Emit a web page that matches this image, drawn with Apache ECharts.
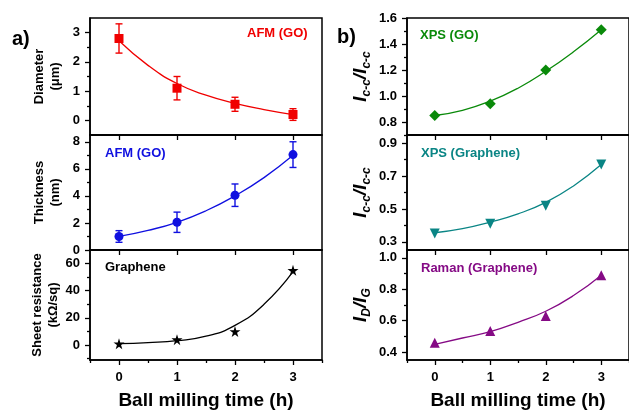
<!DOCTYPE html>
<html><head><meta charset="utf-8">
<script src="https://cdn.jsdelivr.net/npm/echarts@6/dist/echarts.min.js"></script>
<style>html,body{margin:0;padding:0;background:#fff}#c{width:629px;height:411px}</style>
</head><body><div id="c"></div>
<script>
// ---- data ----
const timeH = [0, 1, 2, 3];
const fitX = [0, 0.5, 1, 1.5, 2, 2.5, 3];
const xTicks = [0, 1, 2, 3];
const xMinorTicks = [-0.5, 0.5, 1.5, 2.5, 3.5];

const diameter = [2.8, 1.1, 0.55, 0.2];
const diameterErr = [0.5, 0.4, 0.24, 0.2];
const diameterFit = [2.72, 1.88, 1.26, 0.86, 0.58, 0.37, 0.2];

const thickness = [1.0, 2.05, 4.05, 7.05];
const thicknessErr = [0.43, 0.75, 0.83, 0.95];
const thicknessFit = [1.0, 1.45, 2.05, 2.9, 4.0, 5.35, 7.0];

const sheetRes = [1, 4, 10, 55];
const sheetResFit = [1, 1.8, 3.2, 6.5, 14.5, 30, 54];

const xpsGO = [0.85, 0.94, 1.2, 1.51];
const xpsGOFit = [0.85, 0.89, 0.96, 1.06, 1.19, 1.34, 1.51];

const xpsGr = [0.35, 0.41, 0.52, 0.77];
const xpsGrFit = [0.355, 0.38, 0.42, 0.47, 0.54, 0.64, 0.77];

const raman = [0.46, 0.535, 0.63, 0.89];
const ramanFit = [0.45, 0.49, 0.53, 0.59, 0.66, 0.76, 0.89];

const yTicks = [
  {min: -0.5, max: 3.5, major: [0, 1, 2, 3], minor: [0.5, 1.5, 2.5]},
  {min: 0, max: 8.5, major: [0, 2, 4, 6, 8], minor: [1, 3, 5, 7]},
  {min: -11, max: 70, major: [0, 20, 40, 60], minor: [-10, 10, 30, 50]},
  {min: 0.7, max: 1.6, major: [0.8, 1.0, 1.2, 1.4, 1.6], minor: [0.7, 0.9, 1.1, 1.3, 1.5]},
  {min: 0.25, max: 0.95, major: [0.3, 0.5, 0.7, 0.9], minor: [0.4, 0.6, 0.8]},
  {min: 0.35, max: 1.05, major: [0.4, 0.6, 0.8, 1.0], minor: [0.5, 0.7, 0.9]}
];
const yFormat = [0, 0, 0, 1, 1, 1];
const yNames = ['Diameter\n(μm)', 'Thickness\n(nm)', 'Sheet resistance\n(kΩ/sq)',
  '{i|I}{s|c-c}{i|/I}{s|c-c}', '{i|I}{s|c-c}{i|/I}{s|c-c}', '{i|I}{s|D}{i|/I}{s|G}'];

// ---- layout ----
const FONT = 'Arial, "Liberation Sans", sans-serif';
const tops = [18, 135, 250];
const heights = [117, 115, 115];
const grids = [];
for (let p = 0; p < 2; p++) {
  for (let r = 0; r < 3; r++) {
    grids.push({
      left: p === 0 ? 90 : 407,
      right: p === 0 ? 307 : -9,
      top: tops[r], height: heights[r],
      show: true, borderColor: '#000', borderWidth: 1.5, backgroundColor: 'transparent',
      containLabel: false
    });
  }
}

const xAxes = [], yAxes = [];
for (let g = 0; g < 6; g++) {
  const bottom = (g % 3) === 2;
  xAxes.push({
    type: 'value', gridIndex: g, min: -0.5, max: 3.5, position: 'bottom',
    axisLine: {show: true, onZero: false, lineStyle: {color: '#000', width: 1.5}},
    axisTick: {show: true, customValues: xTicks, length: 5, inside: false, lineStyle: {color: '#000', width: 1.3}},
    axisLabel: {show: bottom, customValues: xTicks, fontFamily: FONT, fontWeight: 'bold', fontSize: 13, color: '#000', margin: 11},
    splitLine: {show: false},
    name: bottom ? 'Ball milling time (h)' : '',
    nameLocation: 'middle', nameGap: 31,
    nameTextStyle: {fontFamily: FONT, fontWeight: 'bold', fontSize: 19, color: '#000'}
  });
}
// minor x ticks on the bottom grids
[2, 5].forEach(g => {
  xAxes.push({
    type: 'value', gridIndex: g, min: -0.5, max: 3.5, position: 'bottom',
    axisLine: {show: false, onZero: false},
    axisTick: {show: true, customValues: xMinorTicks, length: 3, lineStyle: {color: '#000', width: 1.3}},
    axisLabel: {show: false}, splitLine: {show: false}
  });
});

const rich = {
  i: {fontFamily: FONT, fontWeight: 'bold', fontStyle: 'italic', fontSize: 19, color: '#000', lineHeight: 24},
  s: {fontFamily: FONT, fontWeight: 'bold', fontStyle: 'italic', fontSize: 12, color: '#000', lineHeight: 24, verticalAlign: 'bottom', padding: [8, 0, 0, 0]}
};
for (let g = 0; g < 6; g++) {
  const t = yTicks[g];
  const dec = yFormat[g];
  yAxes.push({
    type: 'value', gridIndex: g, min: t.min, max: t.max, position: 'left',
    axisLine: {show: true, onZero: false, lineStyle: {color: '#000', width: 1.5}},
    axisTick: {show: true, customValues: t.major, length: 5, lineStyle: {color: '#000', width: 1.3}},
    axisLabel: {show: true, customValues: t.major, fontFamily: FONT, fontWeight: 'bold', fontSize: 13, color: '#000', margin: 10,
      formatter: v => dec ? Number(v).toFixed(1) : String(Math.round(v))},
    splitLine: {show: false},
    name: yNames[g], nameLocation: 'middle', nameRotate: 90,
    nameGap: g < 3 ? 27 : 34,
    nameTextStyle: g < 3
      ? {fontFamily: FONT, fontWeight: 'bold', fontSize: 13, color: '#000', lineHeight: 16, align: 'center'}
      : {rich: rich, align: 'center'}
  });
}
for (let g = 0; g < 6; g++) {
  const t = yTicks[g];
  yAxes.push({
    type: 'value', gridIndex: g, min: t.min, max: t.max, position: 'left',
    axisLine: {show: false, onZero: false},
    axisTick: {show: true, customValues: t.minor, length: 3, lineStyle: {color: '#000', width: 1.3}},
    axisLabel: {show: false}, splitLine: {show: false}
  });
}

const pairs = (xs, ys) => xs.map((x, i) => [x, ys[i]]);
const triples = (xs, ys, es) => xs.map((x, i) => [x, ys[i], es[i]]);

const STAR = 'path://M50,0 L61,35 L98,35 L68,57 L79,91 L50,70 L21,91 L32,57 L2,35 L39,35 Z';

function errSeries(g, data, color) {
  return {
    type: 'custom', xAxisIndex: g, yAxisIndex: g, data: data, z: 3,
    renderItem: (params, api) => {
      const x = api.value(0), y = api.value(1), e = api.value(2);
      const t = api.coord([x, y + e]), b = api.coord([x, y - e]);
      const w = 3.5;
      const st = {stroke: color, lineWidth: 1.4};
      return {type: 'group', children: [
        {type: 'line', shape: {x1: t[0], y1: t[1], x2: b[0], y2: b[1]}, style: st},
        {type: 'line', shape: {x1: t[0] - w, y1: t[1], x2: t[0] + w, y2: t[1]}, style: st},
        {type: 'line', shape: {x1: b[0] - w, y1: b[1], x2: b[0] + w, y2: b[1]}, style: st}
      ]};
    }
  };
}
function fitSeries(g, data, color) {
  return {type: 'line', xAxisIndex: g, yAxisIndex: g, data: data, smooth: 0.5, showSymbol: false,
    lineStyle: {color: color, width: 1.3}, z: 2, silent: true};
}
function ptSeries(g, data, color, symbol, size, rot) {
  return {type: 'scatter', xAxisIndex: g, yAxisIndex: g, data: data, symbol: symbol, symbolSize: size,
    symbolRotate: rot || 0, itemStyle: {color: color, opacity: 1}, z: 4};
}

const RED = '#f00000', BLUE = '#1010e0', BLACK = '#000', GREEN = '#0a8a0a', TEAL = '#0a8585', PURPLE = '#850a85';

const series = [
  fitSeries(0, pairs(fitX, diameterFit), RED),
  errSeries(0, triples(timeH, diameter, diameterErr), RED),
  ptSeries(0, pairs(timeH, diameter), RED, 'rect', 9),
  fitSeries(1, pairs(fitX, thicknessFit), BLUE),
  errSeries(1, triples(timeH, thickness, thicknessErr), BLUE),
  ptSeries(1, pairs(timeH, thickness), BLUE, 'circle', 9),
  fitSeries(2, pairs(fitX, sheetResFit), BLACK),
  ptSeries(2, pairs(timeH, sheetRes), BLACK, STAR, 11),
  fitSeries(3, pairs(fitX, xpsGOFit), GREEN),
  ptSeries(3, pairs(timeH, xpsGO), GREEN, 'diamond', [11, 11]),
  fitSeries(4, pairs(fitX, xpsGrFit), TEAL),
  ptSeries(4, pairs(timeH, xpsGr), TEAL, 'triangle', 10, 180),
  fitSeries(5, pairs(fitX, ramanFit), PURPLE),
  ptSeries(5, pairs(timeH, raman), PURPLE, 'triangle', 10)
];

const txt = (left, top, text, color, size) => ({type: 'text', left: left, top: top,
  style: {text: text, fill: color, font: 'bold ' + size + 'px ' + FONT}});

const option = {
  animation: false,
  backgroundColor: '#fff',
  grid: grids, xAxis: xAxes, yAxis: yAxes, series: series,
  graphic: [
    txt(12, 29, 'a)', BLACK, 20),
    txt(337, 27, 'b)', BLACK, 20),
    txt(247, 27, 'AFM (GO)', RED, 13),
    txt(105, 147, 'AFM (GO)', BLUE, 13),
    txt(105, 261, 'Graphene', BLACK, 13),
    txt(420, 29, 'XPS (GO)', GREEN, 13),
    txt(421, 147, 'XPS (Graphene)', TEAL, 13),
    txt(421, 262, 'Raman (Graphene)', PURPLE, 13)
  ]
};
const chart = echarts.init(document.getElementById('c'), null, {renderer: 'canvas'});
chart.setOption(option);
</script></body></html>
